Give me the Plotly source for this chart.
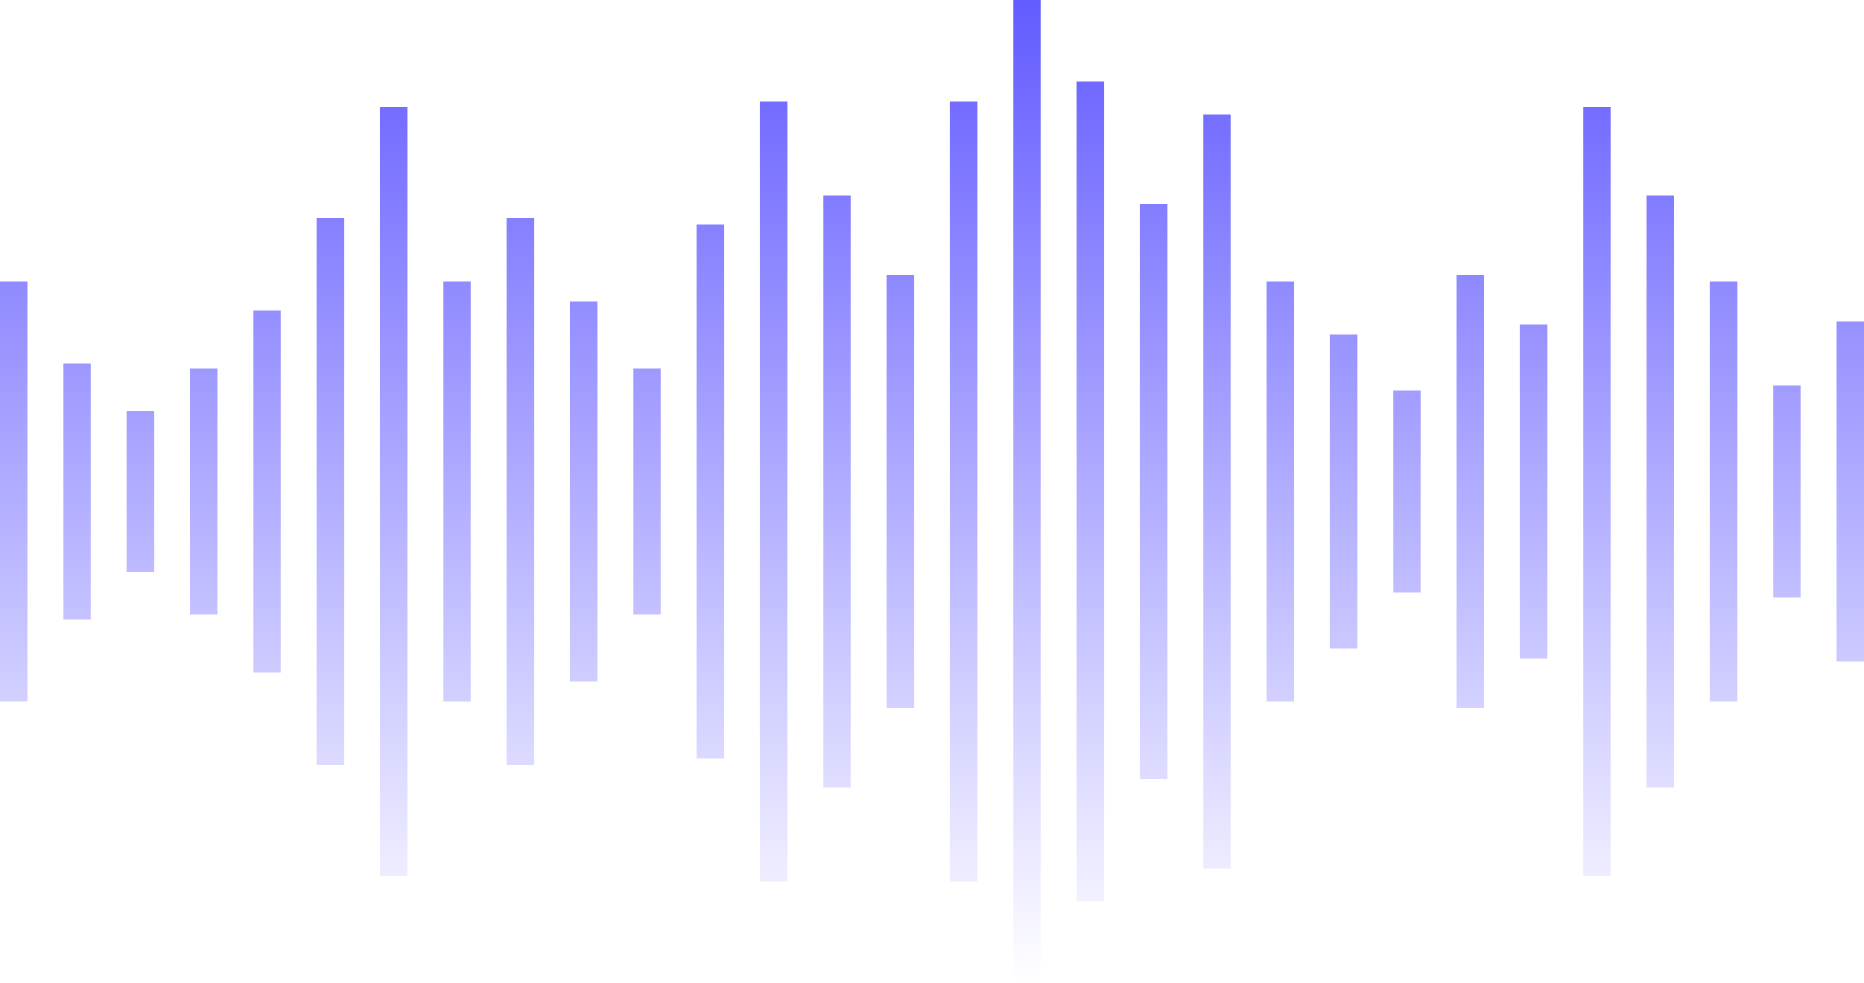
import plotly.graph_objects as go

# Waveform bars, left to right: full height of each bar (px), all centred on one line
bar_index = list(range(30))
bar_heights = [420, 256, 161, 246, 362, 547, 769, 420, 547, 380,
               246, 534, 780, 592, 433, 780, 983, 820, 575, 754,
               420, 314, 202, 433, 334, 769, 592, 420, 212, 340]

CANVAS_W, CANVAS_H = 1864, 983
MID = CANVAS_H / 2
BAR_W = 0.434  # bar width as a share of the spacing between bars

fig = go.Figure()
for i, h in zip(bar_index, bar_heights):
    x0, x1 = i - BAR_W / 2, i + BAR_W / 2
    y0, y1 = MID - h / 2, MID + h / 2
    fig.add_trace(go.Scatter(
        x=[x0, x1, x1, x0, x0],
        y=[y0, y0, y1, y1, y0],
        mode="lines", fill="toself",
        line=dict(width=0, color="rgba(0,0,0,0)"),
        fillgradient=dict(
            type="vertical", start=0, stop=CANVAS_H,
            colorscale=[[0, "rgba(99,91,255,0)"], [1, "rgba(99,91,255,1)"]],
        ),
        hoverinfo="skip", showlegend=False,
    ))

fig.update_layout(
    width=CANVAS_W, height=CANVAS_H,
    margin=dict(l=0, r=0, t=0, b=0),
    paper_bgcolor="white", plot_bgcolor="white",
    xaxis=dict(range=[-BAR_W / 2, bar_index[-1] + BAR_W / 2], visible=False, fixedrange=True),
    yaxis=dict(range=[0, CANVAS_H], visible=False, fixedrange=True),
    showlegend=False,
)

# drop the browser's default body margin so the chart sits flush with the window
post_script = "document.body.style.margin='0'; document.body.style.overflow='hidden';"

fig.write_html("out.html", config={"displayModeBar": False}, post_script=post_script)
